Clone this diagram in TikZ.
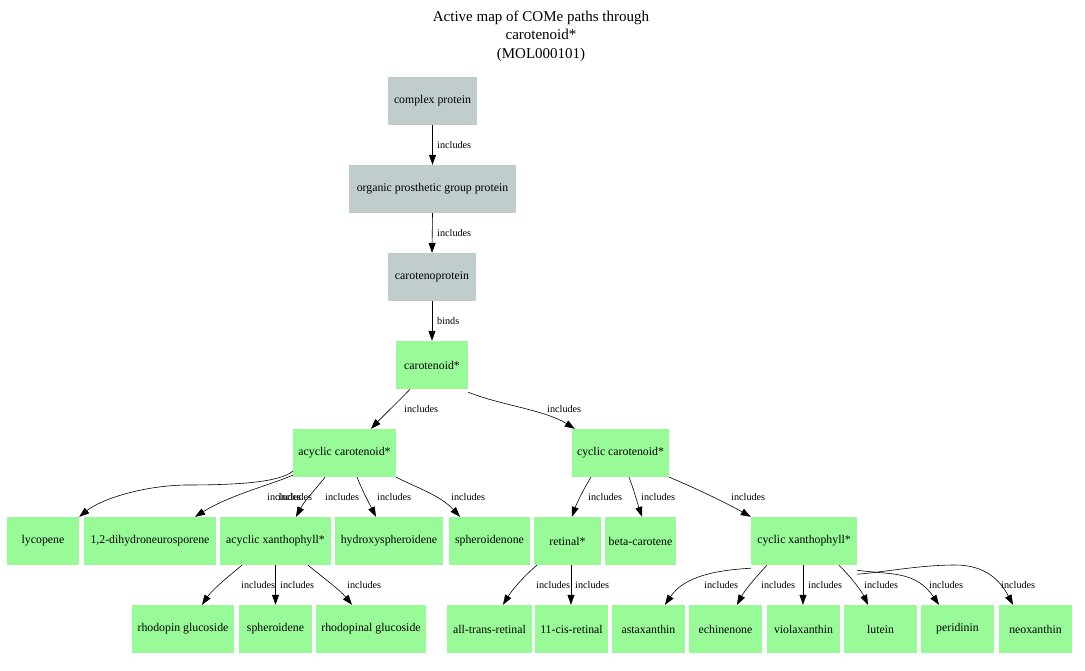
\documentclass[tikz,border=0pt]{standalone}
\usepackage{fontspec}
\setmainfont{Liberation Serif}
\usetikzlibrary{arrows.meta}
\definecolor{greynode}{HTML}{C1CDCD}
\definecolor{greennode}{HTML}{98FB98}
\begin{document}
\begin{tikzpicture}[x=1pt,y=-1pt,
  box/.style={rectangle,inner sep=0pt,minimum height=48pt,font=\fontsize{11.8}{14}\selectfont},
  gbox/.style={box,fill=greynode},
  pbox/.style={box,fill=greennode},
  lbl/.style={anchor=west,inner sep=0pt,font=\fontsize{10.2}{12}\selectfont},
  edge/.style={draw=black,line width=0.6pt,-{Triangle[length=10pt,width=7pt]}}]
\useasboundingbox (0,0) rectangle (1085,670);
\node[align=center,font=\fontsize{15}{18.5}\selectfont] (title) at (541,36) {Active map of COMe paths through\\carotenoid*\\(MOL000101)};
% nodes
\node[gbox,minimum width=89pt] (cp) at (432.5,101) {complex protein};
\node[gbox,minimum width=167pt] (opg) at (432.5,189) {organic prosthetic group protein};
\node[gbox,minimum width=88pt] (ctp) at (432,277) {carotenoprotein};
\node[pbox,minimum width=72pt] (car) at (432,365) {carotenoid*};
\node[pbox,minimum width=103pt] (acar) at (344.5,453) {acyclic carotenoid*};
\node[pbox,minimum width=97pt] (ccar) at (620.5,453) {cyclic carotenoid*};
\node[pbox,minimum width=72pt] (lyc) at (43,541) {lycopene};
\node[pbox,minimum width=132pt] (dhn) at (150,541) {1,2-dihydroneurosporene};
\node[pbox,minimum width=111pt] (axa) at (275.5,541) {acyclic xanthophyll*};
\node[pbox,minimum width=108pt] (hsp) at (389,541) {hydroxyspheroidene};
\node[pbox,minimum width=81pt] (spn) at (489.5,541) {spheroidenone};
\node[pbox,minimum width=67pt] (ret) at (567.5,541) {retinal*};
\node[pbox,minimum width=71pt] (bca) at (640.5,541) {beta-carotene};
\node[pbox,minimum width=106pt] (cxa) at (804,541) {cyclic xanthophyll*};
\node[pbox,minimum width=102pt] (rhg) at (183,629) {rhodopin glucoside};
\node[pbox,minimum width=73pt] (sph) at (275.5,629) {spheroidene};
\node[pbox,minimum width=110pt] (rlg) at (371,629) {rhodopinal glucoside};
\node[pbox,minimum width=85pt] (atr) at (489.5,629) {all-trans-retinal};
\node[pbox,minimum width=73pt] (cis) at (571.5,629) {11-cis-retinal};
\node[pbox,minimum width=73pt] (ast) at (648.5,629) {astaxanthin};
\node[pbox,minimum width=73pt] (ech) at (725.5,629) {echinenone};
\node[pbox,minimum width=73pt] (vio) at (803.5,629) {violaxanthin};
\node[pbox,minimum width=73pt] (lut) at (880.5,629) {lutein};
\node[pbox,minimum width=73pt] (per) at (957.5,629) {peridinin};
\node[pbox,minimum width=73pt] (neo) at (1035.5,629) {neoxanthin};
% edges
\draw[edge] (cp.south) -- (opg.north);
\draw[edge] (opg.south) -- (ctp.north);
\draw[edge] (ctp.south) -- (car.north);
\draw[edge] ([xshift=-22pt]car.south) .. controls (400,400) and (385,414) .. ([xshift=26.5pt]acar.north);
\draw[edge] ([yshift=-3pt]car.south east) .. controls (500,405) and (545,410) .. ([xshift=3pt]ccar.north west);
\draw[edge] ([yshift=6pt]acar.south west) .. controls (280,482) and (240,485) .. (185,485) .. controls (140,486) and (100,500) .. (lyc.north east);
\draw[edge] ([yshift=2pt]acar.south west) .. controls (270,485) and (230,495) .. ([xshift=45pt]dhn.north);
\draw[edge] ([xshift=-19.5pt]acar.south) .. controls (315,490) and (305,500) .. ([xshift=20.5pt]axa.north);
\draw[edge] ([xshift=12.5pt]acar.south) .. controls (362,490) and (370,505) .. ([xshift=-13pt]hsp.north);
\draw[edge] (acar.south east) .. controls (415,487) and (440,495) .. ([xshift=-29.5pt]spn.north);
\draw[edge] ([xshift=-29.5pt]ccar.south) .. controls (583,490) and (576,505) .. ([xshift=4.5pt]ret.north);
\draw[edge] ([xshift=8.5pt]ccar.south) .. controls (634,490) and (638,505) .. ([xshift=1.5pt]bca.north);
\draw[edge] (ccar.south east) .. controls (700,490) and (730,505) .. (cxa.north west);
\draw[edge] ([xshift=-33.5pt]axa.south) .. controls (230,575) and (212,590) .. ([xshift=19pt]rhg.north);
\draw[edge] (axa.south) -- (sph.north);
\draw[edge] ([xshift=32.5pt]axa.south) .. controls (320,575) and (340,590) .. ([xshift=-19pt]rlg.north);
\draw[edge] ([xshift=-30.5pt]ret.south) .. controls (525,575) and (512,590) .. ([xshift=13.5pt]atr.north);
\draw[edge] ([xshift=3.5pt]ret.south) -- ([xshift=-0.5pt]cis.north);
\draw[edge] ([yshift=-3pt]cxa.south west) .. controls (720,570) and (685,575) .. ([xshift=16.5pt]ast.north);
\draw[edge] ([xshift=-37pt]cxa.south) .. controls (755,578) and (745,590) .. ([xshift=11.5pt]ech.north);
\draw[edge] ([xshift=-1pt]cxa.south) -- ([xshift=-0.5pt]vio.north);
\draw[edge] ([xshift=35pt]cxa.south) .. controls (852,578) and (862,592) .. ([xshift=-12.5pt]lut.north);
\draw[edge] ([yshift=-5pt]cxa.south east) .. controls (890,575) and (915,570) .. ([xshift=-18.5pt]per.north);
\draw[edge] ([yshift=-9pt]cxa.south east) .. controls (885,572) and (920,565) .. (955,565) .. controls (985,565) and (1000,580) .. ([xshift=-22.5pt]neo.north);
% labels
\node[lbl] (l1) at (437,145) {includes};
\node[lbl] (l2) at (437,233) {includes};
\node[lbl] (l3) at (437,321) {binds};
\node[lbl] (l4) at (404,409) {includes};
\node[lbl] (l5) at (547,409) {includes};
\node[lbl] (l6) at (267,497) {includes};
\node[lbl] (l7) at (278,497) {includes};
\node[lbl] (l8) at (325,497) {includes};
\node[lbl] (l9) at (377,497) {includes};
\node[lbl] (l10) at (451,497) {includes};
\node[lbl] (l11) at (588,497) {includes};
\node[lbl] (l12) at (641,497) {includes};
\node[lbl] (l13) at (731,497) {includes};
\node[lbl] (l14) at (241,585) {includes};
\node[lbl] (l15) at (280,585) {includes};
\node[lbl] (l16) at (347,585) {includes};
\node[lbl] (l17) at (536,585) {includes};
\node[lbl] (l18) at (575,585) {includes};
\node[lbl] (l19) at (704,585) {includes};
\node[lbl] (l20) at (761,585) {includes};
\node[lbl] (l21) at (808,585) {includes};
\node[lbl] (l22) at (864,585) {includes};
\node[lbl] (l23) at (929,585) {includes};
\node[lbl] (l24) at (1001,585) {includes};
\end{tikzpicture}
\end{document}
